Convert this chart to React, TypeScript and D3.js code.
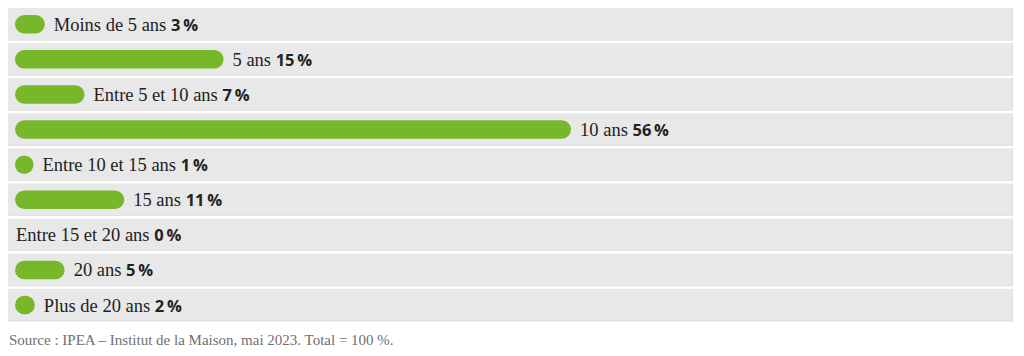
import React from "react";
import * as d3 from "d3";

const categories = [
  "Moins de 5 ans",
  "5 ans",
  "Entre 5 et 10 ans",
  "10 ans",
  "Entre 10 et 15 ans",
  "15 ans",
  "Entre 15 et 20 ans",
  "20 ans",
  "Plus de 20 ans",
];
// Percentages printed in the labels
const percentages = [3, 15, 7, 56, 1, 11, 0, 5, 2];
// Bar lengths as drawn in the picture (the "5 ans" bar is drawn longer than its label)
const barLengths = [3, 21, 7, 56, 1, 11, 0, 5, 2];
const sourceNote = "Source : IPEA \u2013 Institut de la Maison, mai 2023. Total = 100\u00a0%.";

const W = 1024;
const H = 356;
const rowLeft = 8;
const rowRight = 1013;
const rowTop = 8;
const rowPitch = 35.1;
const rowH = 32.5;
const barH = 18.5;
const barX0 = 15;

export default function App() {
  const x = d3.scaleLinear().domain([0, 100]).range([0, 993]);
  const y = d3
    .scaleBand<number>()
    .domain(d3.range(categories.length))
    .range([rowTop, rowTop + rowPitch * categories.length])
    .paddingInner(0)
    .paddingOuter(0);

  return (
    <svg
      width={W}
      height={H}
      viewBox={`0 0 ${W} ${H}`}
      style={{ position: "absolute", left: 0, top: 0, background: "#fff" }}
    >
      {categories.map((c, i) => {
        const top = y(i) as number;
        const cy = top + rowH / 2;
        const v = barLengths[i];
        const w = v > 0 ? Math.max(barH, x(v)) : 0;
        const labelX = w > 0 ? barX0 + w + 9 : 16;
        return (
          <g key={c}>
            <rect x={rowLeft} y={top} width={rowRight - rowLeft} height={rowH} fill="#e8e8e8" />
            <line x1={rowRight - 0.5} x2={rowRight - 0.5} y1={top} y2={top + rowH} stroke="#dcdcdc" strokeWidth={1} />
            <line x1={rowLeft} x2={rowRight} y1={top + rowH - 0.5} y2={top + rowH - 0.5} stroke="#e2e2e2" strokeWidth={1} />
            {w > 0 && (
              <rect x={barX0} y={cy - barH / 2} width={w} height={barH} rx={barH / 2} ry={barH / 2} fill="#76b82a" />
            )}
            <text
              x={labelX}
              y={cy + 6.5}
              fontFamily="'Liberation Serif', 'DejaVu Serif', serif"
              fontSize={18.5}
              fill="#222"
            >
              {c + " "}
              <tspan fontFamily="'Open Sans', 'Noto Sans', sans-serif" fontWeight={700} fontSize={16.5}>
                {percentages[i] + "\u2009%"}
              </tspan>
            </text>
          </g>
        );
      })}
      <text
        x={9}
        y={345}
        fontFamily="'Liberation Serif', 'DejaVu Serif', serif"
        fontSize={15}
        fill="#6f6f6f"
      >
        {sourceNote}
      </text>
    </svg>
  );
}
